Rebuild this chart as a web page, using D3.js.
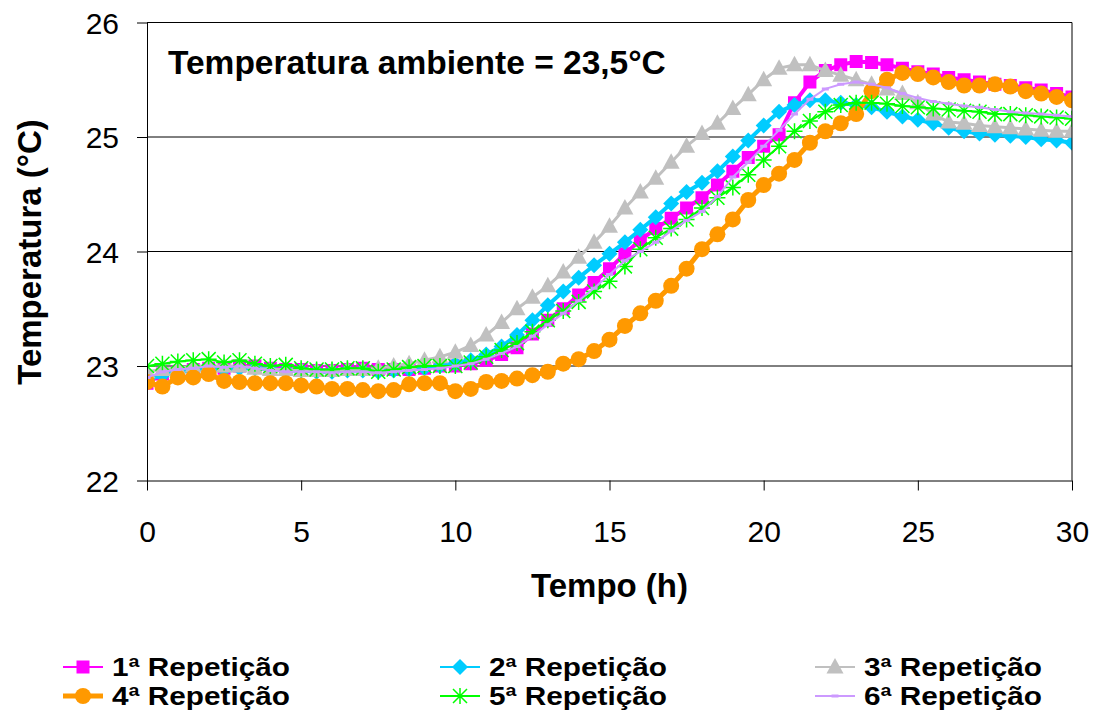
<!DOCTYPE html>
<html><head><meta charset="utf-8">
<script src="https://cdn.jsdelivr.net/npm/d3@7"></script>
<style>body{margin:0;background:#fff} svg{display:block;font-family:"Liberation Sans",Arial,sans-serif}</style>
</head><body><svg id="c" width="1101" height="715"></svg>
<script>
const hours = [0,0.5,1,1.5,2,2.5,3,3.5,4,4.5,5,5.5,6,6.5,7,7.5,8,8.5,9,9.5,10,10.5,11,11.5,12,12.5,13,13.5,14,14.5,15,15.5,16,16.5,17,17.5,18,18.5,19,19.5,20,20.5,21,21.5,22,22.5,23,23.5,24,24.5,25,25.5,26,26.5,27,27.5,28,28.5,29,29.5,30];
const rep1 = [22.85,22.93,22.95,22.97,22.98,22.98,23.0,23.0,22.98,22.97,22.97,22.96,22.96,22.97,22.98,22.97,22.97,22.97,22.98,23.0,23.0,23.02,23.05,23.1,23.16,23.28,23.4,23.5,23.62,23.73,23.85,23.98,24.1,24.2,24.29,24.38,24.47,24.58,24.7,24.82,24.92,25.02,25.3,25.48,25.58,25.63,25.66,25.65,25.63,25.6,25.57,25.55,25.52,25.5,25.48,25.46,25.45,25.43,25.41,25.38,25.35];
const rep2 = [22.88,22.92,22.95,22.96,22.97,22.97,22.98,22.98,22.97,22.96,22.96,22.95,22.95,22.96,22.96,22.95,22.96,22.97,22.98,23.0,23.02,23.05,23.1,23.17,23.27,23.4,23.53,23.65,23.77,23.88,23.98,24.08,24.19,24.3,24.42,24.52,24.6,24.7,24.83,24.97,25.1,25.22,25.28,25.32,25.32,25.3,25.28,25.26,25.22,25.18,25.15,25.12,25.08,25.05,25.03,25.02,25.01,25.0,24.98,24.97,24.95];
const rep3 = [22.95,22.97,22.98,23.0,23.0,23.0,23.0,22.98,22.97,22.97,22.96,22.96,22.96,22.97,22.97,22.98,23.0,23.02,23.05,23.08,23.12,23.18,23.27,23.38,23.5,23.6,23.7,23.82,23.95,24.08,24.22,24.38,24.52,24.64,24.78,24.92,25.03,25.12,25.25,25.37,25.5,25.6,25.63,25.63,25.58,25.54,25.5,25.46,25.42,25.38,25.3,25.2,25.13,25.12,25.1,25.09,25.08,25.07,25.06,25.05,25.05];
const rep4 = [22.86,22.82,22.9,22.9,22.93,22.87,22.86,22.85,22.85,22.85,22.83,22.82,22.8,22.8,22.79,22.78,22.79,22.84,22.85,22.85,22.78,22.8,22.86,22.87,22.89,22.92,22.95,23.02,23.06,23.13,23.23,23.35,23.46,23.57,23.7,23.85,24.02,24.15,24.28,24.45,24.58,24.68,24.8,24.95,25.05,25.12,25.2,25.4,25.5,25.56,25.55,25.52,25.48,25.45,25.45,25.46,25.44,25.4,25.38,25.35,25.32];
const rep5 = [23.0,23.02,23.04,23.05,23.06,23.03,23.05,23.02,23.0,23.01,22.98,22.97,22.97,22.98,22.98,22.95,22.97,22.99,23.0,23.0,23.0,23.03,23.08,23.14,23.2,23.3,23.4,23.48,23.56,23.65,23.74,23.87,24.02,24.12,24.2,24.28,24.38,24.47,24.56,24.67,24.8,24.92,25.05,25.14,25.22,25.28,25.3,25.3,25.29,25.27,25.26,25.25,25.24,25.23,25.22,25.2,25.2,25.19,25.18,25.17,25.16];
const rep6 = [22.9,22.95,22.97,22.98,23.0,22.99,23.0,22.98,22.96,22.95,22.95,22.95,22.94,22.95,22.95,22.94,22.95,22.96,22.97,22.98,23.0,23.02,23.06,23.11,23.17,23.26,23.36,23.46,23.57,23.68,23.8,23.92,24.0,24.08,24.18,24.27,24.35,24.48,24.65,24.78,24.92,25.06,25.2,25.33,25.42,25.46,25.48,25.46,25.43,25.38,25.34,25.31,25.29,25.27,25.26,25.24,25.22,25.21,25.2,25.19,25.18];
const seriesNames = ["1ª Repetição","2ª Repetição","3ª Repetição","4ª Repetição","5ª Repetição","6ª Repetição"];
const xTicks = [0,5,10,15,20,25,30];
const yTicks = [22,23,24,25,26];

const seriesData = [rep1,rep2,rep3,rep4,rep5,rep6];
const styles = [
  {color:"#FF00FF", lw:4, marker:"square"},
  {color:"#00CCFF", lw:4, marker:"diamond"},
  {color:"#C0C0C0", lw:3, marker:"triangle"},
  {color:"#FF9900", lw:5, marker:"circle"},
  {color:"#00FF00", lw:2, marker:"star"},
  {color:"#CC99FF", lw:2, marker:"dash"}
];

const svg = d3.select("#c");
const L=147, R=1072, T=22.5, B=480.5;
const x = d3.scaleLinear().domain([0,30]).range([L,R]);
const y = d3.scaleLinear().domain([22,26]).range([B,T]);

function markerPath(type){
  switch(type){
    case "square": return "M-6.5,-6.5H6.5V6.5H-6.5Z";
    case "diamond": return "M0,-8L8,0L0,8L-8,0Z";
    case "triangle": return "M0,-9L8.5,6.5H-8.5Z";
    case "circle": return d3.symbol(d3.symbolCircle, Math.PI*8*8)();
    case "star": return "M0,-8V8M-7,-7L7,7M-7,7L7,-7M-8,0H8";
    case "dash": return "M-3.5,-1.5H3.5V1.5H-3.5Z";
  }
}

// gridlines
svg.append("g").selectAll("line").data(yTicks.filter(v=>v>22&&v<26)).join("line")
  .attr("x1",L).attr("x2",R).attr("y1",d=>y(d)).attr("y2",d=>y(d))
  .attr("stroke","#000").attr("stroke-width",1);

// data
svg.append("clipPath").attr("id","clip").append("rect")
  .attr("x",L).attr("y",T).attr("width",R-L).attr("height",B-T);
const plot = svg.append("g").attr("clip-path","url(#clip)");
const line = d3.line().x((d,i)=>x(hours[i])).y(d=>y(d));
seriesData.forEach((vals,si)=>{
  const st = styles[si];
  const g = plot.append("g");
  g.append("path").attr("d",line(vals)).attr("fill","none")
    .attr("stroke",st.color).attr("stroke-width",st.lw).attr("stroke-linejoin","round");
  const p = markerPath(st.marker);
  g.selectAll("path.m").data(vals).join("path").attr("class","m")
    .attr("transform",(d,i)=>`translate(${x(hours[i])},${y(d)})`)
    .attr("d",p)
    .attr("fill",st.marker==="star"?"none":st.color)
    .attr("stroke",st.color).attr("stroke-width",st.marker==="star"?1.5:0);
});

// frame
svg.append("line").attr("x1",L).attr("x2",R).attr("y1",T).attr("y2",T).attr("stroke","#000");
svg.append("line").attr("x1",R).attr("x2",R).attr("y1",T).attr("y2",B).attr("stroke","#000");

// axes
const xAxis = d3.axisBottom(x).tickValues(xTicks).tickSize(10).tickSizeOuter(0).tickFormat(d3.format("d"));
const gx = svg.append("g").attr("transform",`translate(0,${B})`).call(xAxis);
gx.select(".domain").attr("stroke","#000");
gx.selectAll("text").attr("font-size",30).attr("fill","#000").attr("dy",0).attr("y",61)
  .style("font-family","'Liberation Sans',Arial,sans-serif");
const yAxis = d3.axisLeft(y).tickValues(yTicks).tickSize(10).tickSizeOuter(0).tickFormat(d3.format("d"));
const gy = svg.append("g").attr("transform",`translate(${L},0)`).call(yAxis);
gy.select(".domain").attr("stroke","#000");
gy.selectAll("text").attr("font-size",30).attr("fill","#000").attr("x",-28).attr("dy","0.35em")
  .style("font-family","'Liberation Sans',Arial,sans-serif");

// titles
svg.append("text").attr("x",(L+R)/2).attr("y",597).attr("text-anchor","middle")
  .attr("font-size",33).attr("font-weight","bold").text("Tempo (h)");
svg.append("text").attr("transform","translate(41,252) rotate(-90)").attr("text-anchor","middle")
  .attr("font-size",33).attr("font-weight","bold").text("Temperatura (°C)");
svg.append("text").attr("x",168).attr("y",74).attr("font-size",33.5).attr("font-weight","bold")
  .text("Temperatura ambiente = 23,5°C");

// legend
const legX = [63,440,815], legY = [667,696];
const legLw = [2,2,2,5,2,2];
seriesNames.forEach((name,i)=>{
  const col = i%3, row = Math.floor(i/3);
  const st = styles[i];
  const g = svg.append("g").attr("transform",`translate(${legX[col]},${legY[row]})`);
  g.append("line").attr("x1",0).attr("x2",40).attr("y1",0).attr("y2",0)
    .attr("stroke",st.color).attr("stroke-width",legLw[i]);
  g.append("path").attr("transform","translate(20,0)").attr("d",markerPath(st.marker))
    .attr("fill",st.marker==="star"?"none":st.color)
    .attr("stroke",st.color).attr("stroke-width",st.marker==="star"?1.5:0);
  g.append("text").attr("x",49).attr("y",9).attr("font-size",25).attr("font-weight","bold")
    .attr("textLength",178).attr("lengthAdjust","spacingAndGlyphs").text(name);
});
</script></body></html>
